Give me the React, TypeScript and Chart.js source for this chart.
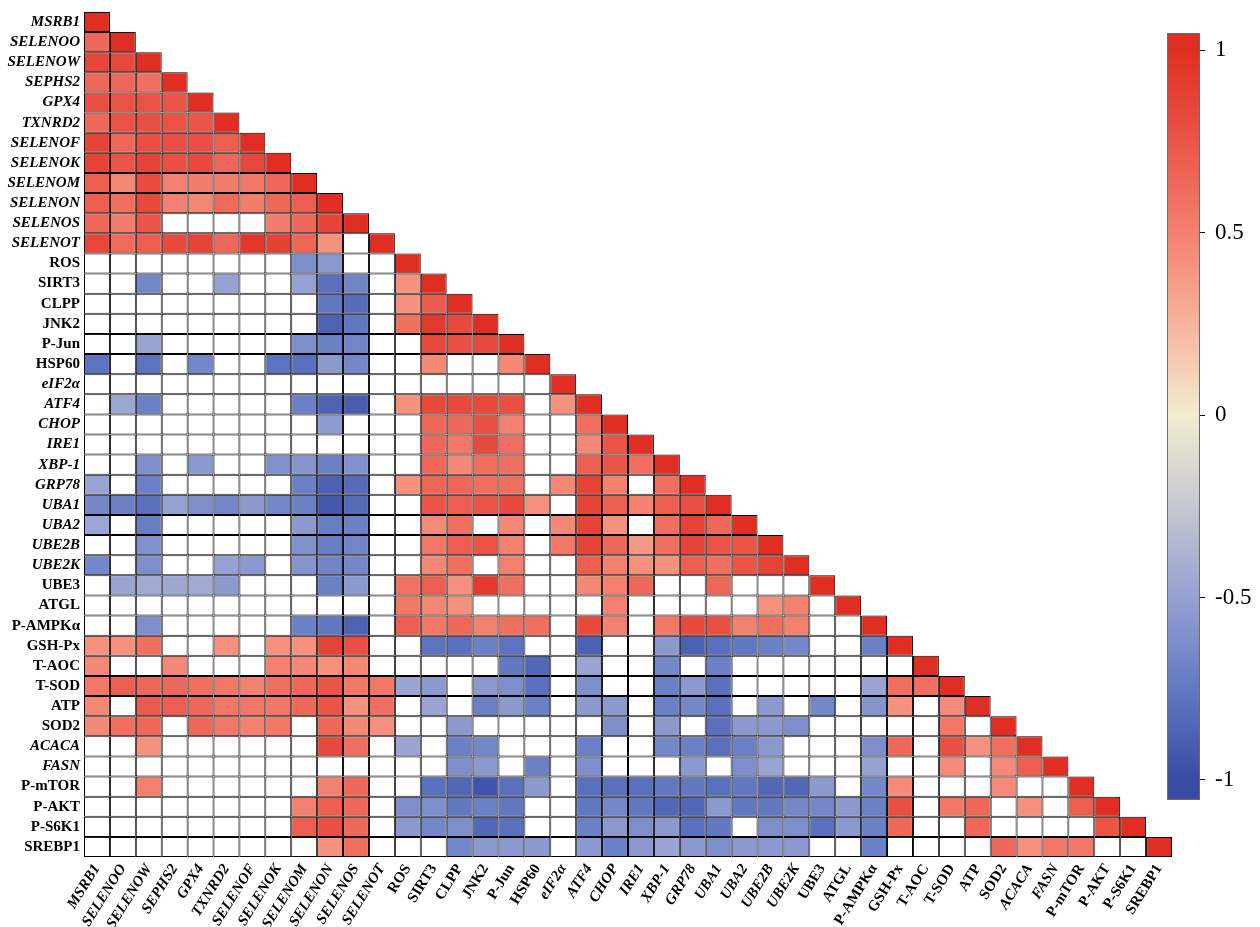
import React, { useEffect, useRef } from 'react';
import { Chart, registerables } from 'chart.js';
Chart.register(...registerables);

const _ = null;

const variables = [
  'MSRB1', 'SELENOO', 'SELENOW', 'SEPHS2', 'GPX4', 'TXNRD2', 'SELENOF', 'SELENOK', 'SELENOM', 'SELENON',
  'SELENOS', 'SELENOT', 'ROS', 'SIRT3', 'CLPP', 'JNK2', 'P-Jun', 'HSP60', 'eIF2α', 'ATF4',
  'CHOP', 'IRE1', 'XBP-1', 'GRP78', 'UBA1', 'UBA2', 'UBE2B', 'UBE2K', 'UBE3', 'ATGL',
  'P-AMPKα', 'GSH-Px', 'T-AOC', 'T-SOD', 'ATP', 'SOD2', 'ACACA', 'FASN', 'P-mTOR', 'P-AKT',
  'P-S6K1', 'SREBP1',
];

const italicVariables = [
  'MSRB1', 'SELENOO', 'SELENOW', 'SEPHS2', 'GPX4', 'TXNRD2', 'SELENOF', 'SELENOK', 'SELENOM', 'SELENON',
  'SELENOS', 'SELENOT', 'eIF2α', 'ATF4', 'CHOP', 'IRE1', 'XBP-1', 'GRP78', 'UBA1', 'UBA2', 'UBE2B', 'UBE2K',
  'ACACA', 'FASN',
];

// Lower-triangle correlation rows (null = not significant, drawn white)
const rowMSRB1 = [1];
const rowSELENOO = [0.64, 1];
const rowSELENOW = [0.85, 0.82, 1];
const rowSEPHS2 = [0.64, 0.65, 0.6, 1];
const rowGPX4 = [0.78, 0.77, 0.77, 0.75, 1];
const rowTXNRD2 = [0.64, 0.77, 0.78, 0.77, 0.75, 1];
const rowSELENOF = [0.86, 0.64, 0.78, 0.78, 0.78, 0.7, 1];
const rowSELENOK = [0.86, 0.75, 0.86, 0.78, 0.82, 0.65, 0.84, 1];
const rowSELENOM = [0.7, 0.47, 0.8, 0.5, 0.52, 0.52, 0.55, 0.64, 1];
const rowSELENON = [0.7, 0.6, 0.82, 0.5, 0.47, 0.63, 0.52, 0.64, 0.7, 1];
const rowSELENOS = [0.64, 0.52, 0.75, _, _, _, _, 0.52, 0.64, 0.86, 1];
const rowSELENOT = [0.84, 0.63, 0.7, 0.82, 0.86, 0.64, 0.95, 0.88, 0.65, 0.42, _, 1];
const rowROS = [_, _, _, _, _, _, _, _, -0.62, -0.56, _, _, 1];
const rowSIRT3 = [_, _, -0.66, _, _, -0.5, _, _, -0.5, -0.8, -0.68, _, 0.42, 1];
const rowCLPP = [_, _, _, _, _, _, _, _, _, -0.75, -0.82, _, 0.42, 0.72, 1];
const rowJNK2 = [_, _, _, _, _, _, _, _, _, -0.87, -0.76, _, 0.6, 0.93, 0.82, 1];
const rowPJun = [_, _, -0.48, _, _, _, _, _, -0.62, -0.7, -0.67, _, _, 0.82, 0.78, 0.82, 1];
const rowHSP60 = [-0.78, _, -0.78, _, -0.66, _, _, -0.78, -0.8, -0.55, -0.66, _, _, 0.46, _, _, 0.46, 1];
const rowEIF2a = [_, _, _, _, _, _, _, _, _, _, _, _, _, _, _, _, _, _, 1];
const rowATF4 = [_, -0.47, -0.7, _, _, _, _, _, -0.7, -0.87, -0.9, _, 0.42, 0.82, 0.82, 0.82, 0.78, _, 0.42, 1];
const rowCHOP = [_, _, _, _, _, _, _, _, _, -0.53, _, _, _, 0.64, 0.64, 0.78, 0.5, _, _, 0.6, 1];
const rowIRE1 = [_, _, _, _, _, _, _, _, _, _, _, _, _, 0.64, 0.55, 0.82, 0.6, _, _, 0.46, 0.75, 1];
const rowXBP1 = [_, _, -0.62, _, -0.55, _, _, -0.6, -0.58, -0.7, -0.6, _, _, 0.64, 0.46, 0.6, 0.6, _, _, 0.7, 0.75, 0.6, 1];
const rowGRP78 = [-0.48, _, -0.7, _, _, _, _, _, -0.7, -0.88, -0.83, _, 0.42, 0.65, 0.64, 0.6, 0.6, _, 0.46, 0.87, 0.5, _, 0.6, 1];
const rowUBA1 = [-0.66, -0.7, -0.8, -0.5, -0.62, -0.66, -0.55, -0.66, -0.7, -0.93, -0.83, _, _, 0.75, 0.7, 0.75, 0.82, 0.42, _, 0.87, 0.7, 0.5, 0.7, 0.78, 1];
const rowUBA2 = [-0.47, _, -0.72, _, _, _, _, _, -0.55, -0.72, -0.7, _, _, 0.45, 0.6, _, 0.46, _, 0.46, 0.87, 0.42, _, 0.6, 0.87, 0.64, 1];
const rowUBE2B = [_, _, -0.6, _, _, _, _, _, -0.6, -0.72, -0.67, _, _, 0.55, 0.7, 0.75, 0.5, _, 0.55, 0.87, 0.64, 0.38, 0.6, 0.87, 0.75, 0.75, 1];
const rowUBE2K = [-0.66, _, -0.62, _, _, -0.5, -0.55, _, -0.58, -0.68, -0.66, _, _, 0.46, 0.6, _, 0.5, _, _, 0.7, 0.5, 0.42, 0.42, 0.7, 0.6, 0.75, 0.87, 1];
const rowUBE3 = [_, -0.48, -0.44, -0.46, -0.44, -0.55, _, _, _, -0.7, -0.55, _, 0.58, 0.7, 0.42, 0.93, 0.6, _, _, 0.46, 0.5, 0.64, _, _, 0.64, _, _, _, 1];
const rowATGL = [_, _, _, _, _, _, _, _, _, _, _, _, 0.55, 0.47, 0.42, _, _, _, _, _, 0.5, _, _, _, _, _, 0.42, 0.5, _, 1];
const rowPAMPK = [_, _, -0.62, _, _, _, _, _, -0.7, -0.75, -0.87, _, 0.7, 0.55, 0.64, 0.5, 0.6, 0.6, _, 0.82, 0.5, _, 0.55, 0.82, 0.78, 0.5, 0.6, 0.5, _, _, 1];
const rowGSHPx = [0.42, 0.42, 0.6, _, _, 0.42, _, 0.42, 0.42, 0.87, 0.78, _, _, -0.78, -0.8, -0.7, -0.78, _, _, -0.88, _, _, -0.55, -0.88, -0.8, -0.75, -0.7, -0.66, _, _, -0.7, 1];
const rowTAOC = [0.46, _, _, 0.46, _, _, _, 0.5, 0.46, 0.42, 0.46, _, _, _, _, _, -0.75, -0.85, _, -0.48, _, _, -0.66, _, -0.7, _, _, _, _, _, _, _, 1];
const rowTSOD = [0.55, 0.7, 0.64, 0.64, 0.6, 0.55, 0.5, 0.6, 0.64, 0.75, 0.55, 0.55, -0.48, -0.55, _, -0.55, -0.62, -0.8, _, -0.62, _, _, -0.7, -0.55, -0.8, _, _, _, _, _, -0.48, 0.6, 0.6, 1];
const rowATP = [0.46, _, 0.72, 0.7, 0.64, 0.55, 0.55, 0.55, 0.64, 0.75, 0.42, 0.6, _, -0.48, _, -0.7, -0.55, -0.7, _, -0.55, -0.55, _, -0.7, -0.66, -0.8, _, -0.55, _, -0.66, _, -0.58, 0.42, _, 0.45, 1];
const rowSOD2 = [0.46, 0.6, 0.64, _, 0.64, 0.55, 0.5, 0.55, _, 0.64, 0.46, 0.42, _, _, -0.55, _, _, _, _, _, -0.62, _, -0.55, _, -0.8, -0.55, -0.55, -0.62, _, _, _, _, _, 0.55, _, 1];
const rowACACA = [_, _, 0.42, _, _, _, _, _, _, 0.82, 0.6, _, -0.48, _, -0.7, -0.66, _, _, _, -0.7, _, _, -0.66, -0.7, -0.8, -0.7, -0.55, _, _, _, -0.62, 0.64, _, 0.78, 0.42, 0.6, 1];
const rowFASN = [_, _, _, _, _, _, _, _, _, _, _, _, _, _, -0.62, -0.55, _, -0.7, _, -0.62, _, _, _, -0.55, _, -0.62, -0.48, _, _, _, -0.5, _, _, 0.45, _, 0.45, 0.7, 1];
const rowPmTOR = [_, _, 0.5, _, _, _, _, _, _, 0.5, 0.64, _, _, -0.8, -0.85, -0.95, -0.8, -0.55, _, -0.8, -0.8, -0.8, -0.75, -0.75, -0.8, -0.75, -0.85, -0.85, -0.55, _, -0.66, 0.45, _, _, _, 0.45, _, _, 1];
const rowPAKT = [_, _, _, _, _, _, _, _, 0.5, 0.7, 0.64, _, -0.62, -0.62, -0.75, -0.7, -0.75, _, _, -0.75, -0.66, -0.75, -0.85, -0.85, -0.55, -0.75, -0.75, -0.66, -0.66, -0.55, -0.7, 0.78, _, 0.55, 0.64, _, 0.42, _, 0.7, 1];
const rowPS6K1 = [_, _, _, _, _, _, _, _, 0.7, 0.78, 0.64, _, -0.55, -0.66, -0.62, -0.85, -0.8, _, _, -0.7, -0.55, -0.62, -0.55, -0.8, -0.75, _, -0.62, -0.62, -0.8, -0.55, -0.7, 0.64, _, _, 0.64, _, _, _, _, 0.75, 1];
const rowSREBP1 = [_, _, _, _, _, _, _, _, _, 0.42, 0.6, _, _, _, -0.66, -0.55, -0.55, -0.55, _, -0.55, -0.7, -0.55, -0.48, -0.55, -0.62, -0.55, -0.55, -0.55, _, _, -0.7, _, _, _, _, 0.64, 0.42, 0.55, 0.55, _, _, 1];

const corrRows = [
  rowMSRB1, rowSELENOO, rowSELENOW, rowSEPHS2, rowGPX4, rowTXNRD2, rowSELENOF, rowSELENOK, rowSELENOM, rowSELENON,
  rowSELENOS, rowSELENOT, rowROS, rowSIRT3, rowCLPP, rowJNK2, rowPJun, rowHSP60, rowEIF2a, rowATF4,
  rowCHOP, rowIRE1, rowXBP1, rowGRP78, rowUBA1, rowUBA2, rowUBE2B, rowUBE2K, rowUBE3, rowATGL,
  rowPAMPK, rowGSHPx, rowTAOC, rowTSOD, rowATP, rowSOD2, rowACACA, rowFASN, rowPmTOR, rowPAKT,
  rowPS6K1, rowSREBP1,
];

const colorbarTicks = [-1, -0.5, 0, 0.5, 1];
const colorbarRange = [-1.055, 1.047];

const colorStops: [number, number[]][] = [
  [-1, [58, 75, 163]],
  [-0.75, [98, 121, 194]],
  [-0.5, [149, 161, 210]],
  [-0.25, [198, 200, 210]],
  [0, [243, 236, 208]],
  [0.25, [247, 180, 156]],
  [0.5, [244, 128, 111]],
  [0.75, [234, 85, 72]],
  [1, [224, 47, 34]],
];

function colorFor(v: number | null): string {
  if (v === null || v === undefined) return '#ffffff';
  const x = Math.max(-1, Math.min(1, v));
  for (let i = 0; i < colorStops.length - 1; i++) {
    const [a, ca] = colorStops[i];
    const [b, cb] = colorStops[i + 1];
    if (x >= a && x <= b) {
      const t = (x - a) / (b - a);
      const c = ca.map((ch, k) => Math.round(ch + (cb[k] - ch) * t));
      return `rgb(${c[0]},${c[1]},${c[2]})`;
    }
  }
  return '#ffffff';
}

const FONT = "'Liberation Serif', 'Times New Roman', serif";

export default function App() {
  const mainRef = useRef<HTMLCanvasElement>(null);
  const barRef = useRef<HTMLCanvasElement>(null);

  useEffect(() => {
    const datasets = corrRows.map((row, r) => ({
      label: variables[r],
      data: variables.map((_v, c) => (c <= r ? [r - 0.5, r + 0.5] : null)),
      backgroundColor: variables.map((_v, c) => (c <= r ? colorFor(row[c]) : 'rgba(0,0,0,0)')),
      borderColor: '#000000',
      borderWidth: 1,
      borderSkipped: false,
      grouped: false,
      barPercentage: 1,
      categoryPercentage: 1,
      inflateAmount: 0,
    }));

    const tickFont = (ctx: any) => {
      const idx = ctx && ctx.tick ? ctx.tick.value : ctx.index;
      const name = variables[idx];
      return {
        family: FONT,
        size: 15,
        weight: 'bold',
        style: italicVariables.includes(name) ? 'italic' : 'normal',
      };
    };

    const main = new Chart(mainRef.current as HTMLCanvasElement, {
      type: 'bar',
      data: { labels: variables, datasets: datasets as any },
      options: {
        responsive: false,
        animation: false,
        devicePixelRatio: 1,
        layout: { padding: { top: 12, right: 88, left: 0, bottom: 0 } },
        plugins: { legend: { display: false }, tooltip: { enabled: false } },
        scales: {
          x: {
            type: 'category',
            offset: true,
            grid: { display: false, drawTicks: false },
            border: { display: false },
            ticks: {
              autoSkip: false,
              maxRotation: 58,
              minRotation: 58,
              padding: 4,
              color: '#000',
              font: tickFont as any,
            },
            afterFit: (s: any) => { s.height = 70; },
          },
          y: {
            type: 'linear',
            reverse: true,
            min: -0.5,
            max: 41.5,
            grid: { display: false, drawTicks: false },
            border: { display: false },
            afterBuildTicks: (s: any) => { s.ticks = variables.map((_v, i) => ({ value: i })); },
            afterFit: (s: any) => { s.width = 84; s.paddingTop = 0; s.paddingBottom = 0; },
            ticks: {
              autoSkip: false,
              padding: 4,
              color: '#000',
              font: tickFont as any,
              callback: (v: any) => variables[v as number],
            },
          },
        },
      } as any,
    });

    const bar = new Chart(barRef.current as HTMLCanvasElement, {
      type: 'bar',
      data: {
        labels: [''],
        datasets: [{
          data: [colorbarRange as any],
          backgroundColor: (ctx: any) => {
            const chart = ctx.chart;
            const ys = chart.scales && chart.scales.y;
            if (!chart.chartArea || !ys) return '#ffffff';
            const g = chart.ctx.createLinearGradient(0, ys.getPixelForValue(1), 0, ys.getPixelForValue(-1));
            colorStops.forEach(([v, c]) => g.addColorStop((1 - v) / 2, `rgb(${c[0]},${c[1]},${c[2]})`));
            return g;
          },
          borderColor: '#6b6b6b',
          borderWidth: 1,
          borderSkipped: false,
          barPercentage: 1,
          categoryPercentage: 1,
          inflateAmount: 0,
        } as any],
      },
      options: {
        responsive: false,
        animation: false,
        devicePixelRatio: 1,
        layout: { padding: { left: 7, top: 13, bottom: 20, right: 0 } },
        plugins: { legend: { display: false }, tooltip: { enabled: false } },
        scales: {
          x: { display: false },
          y: {
            position: 'right',
            min: colorbarRange[0],
            max: colorbarRange[1],
            afterBuildTicks: (s: any) => { s.ticks = colorbarTicks.map((v) => ({ value: v })); },
            afterFit: (s: any) => { s.width = 60; s.paddingTop = 0; s.paddingBottom = 0; },
            grid: { drawOnChartArea: false, drawTicks: true, tickLength: 5, color: '#000' },
            border: { display: false },
            ticks: {
              padding: 10,
              color: '#000',
              font: { family: FONT, size: 23 },
              callback: (v: any) => String(v),
            },
          },
        },
      } as any,
    });

    return () => {
      main.destroy();
      bar.destroy();
    };
  }, []);

  return (
    <div style={{ position: 'fixed', left: 0, top: 0, width: 1260, height: 927, background: '#ffffff', overflow: 'hidden' }}>
      <canvas ref={mainRef} width={1260} height={927} style={{ position: 'absolute', left: 0, top: 0, display: 'block' }} />
      <canvas ref={barRef} width={100} height={800} style={{ position: 'absolute', left: 1160, top: 20, display: 'block' }} />
    </div>
  );
}
